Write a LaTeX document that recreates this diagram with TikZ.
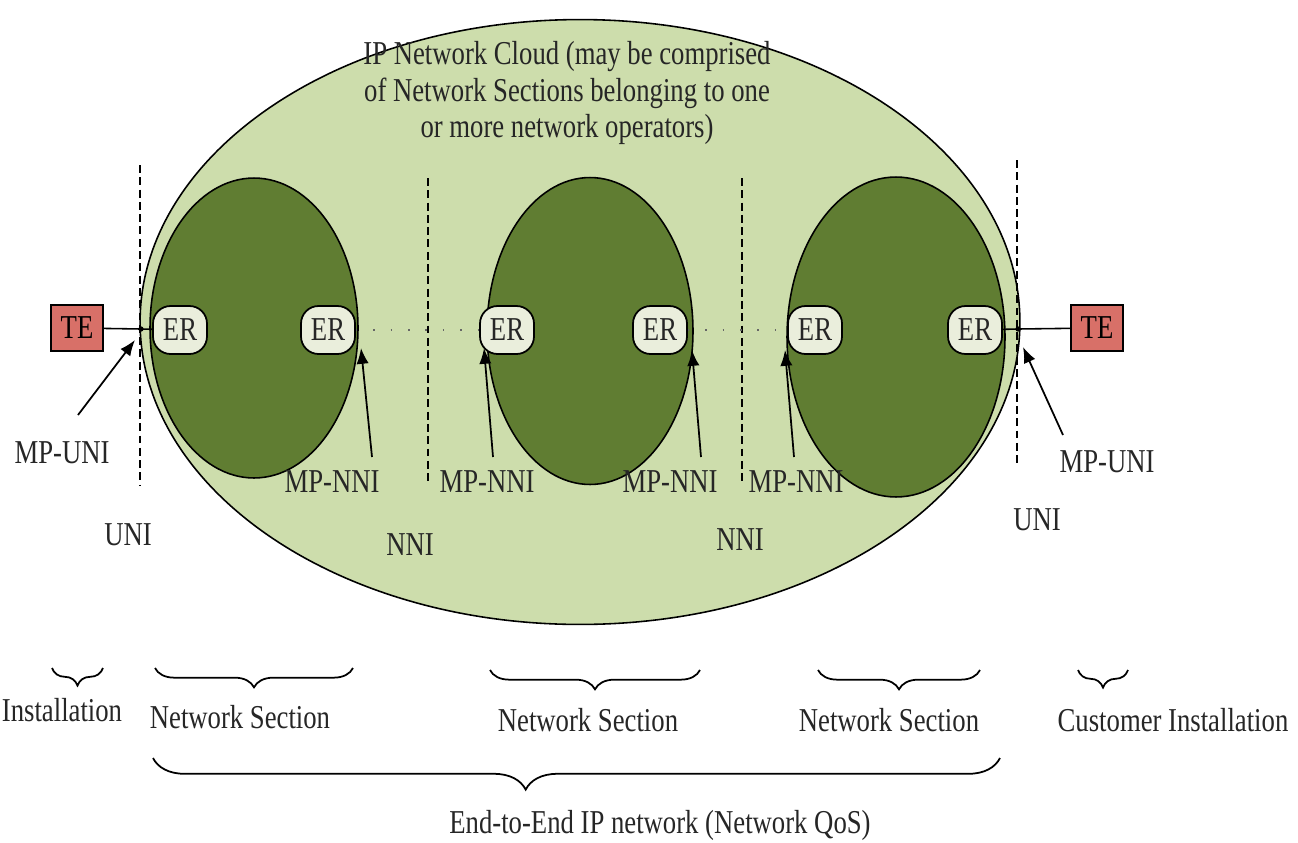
\documentclass[tikz,border=0pt]{standalone}
\usepackage{fontspec}
\setmainfont[FakeStretch=0.8]{Liberation Serif}
\usetikzlibrary{shapes.geometric,arrows.meta,decorations.pathreplacing}
\definecolor{cloudfill}{RGB}{205,221,172}
\definecolor{secfill}{RGB}{96,125,50}
\definecolor{erfill}{RGB}{234,238,220}
\definecolor{tefill}{RGB}{216,112,104}
\tikzset{
  txt/.style={font=\fontsize{19}{21}\selectfont, inner sep=0pt, text=black!85},
  cloud/.style={ellipse, draw=black, line width=0.9pt, fill=cloudfill, inner sep=0pt},
  section/.style={ellipse, draw=black, line width=0.9pt, fill=secfill, inner sep=0pt},
  erbox/.style={draw=black, line width=1pt, fill=erfill, rounded corners=10pt, minimum width=1.08cm, minimum height=0.96cm, inner sep=0pt, font=\fontsize{19}{21}\selectfont, text=black!85},
  tebox/.style={draw=black, line width=0.6pt, fill=tefill, minimum width=1.04cm, minimum height=0.92cm, inner sep=0pt, font=\fontsize{19}{21}\selectfont},
  ifline/.style={line width=1.1pt, dash pattern=on 4.5pt off 2.5pt},
  dotline/.style={line width=0.9pt, dash pattern=on 0.9pt off 9pt, black!60},
  mparrow/.style={line width=1pt, -{Latex[length=9pt,width=7pt]}},
  brace/.style={decorate, line width=1pt},
}
\begin{document}
\begin{tikzpicture}[x=0.02cm, y=-0.02cm]
\useasboundingbox (0,0) rectangle (1298,842);

% cloud and network sections
\node[cloud, minimum width=17.6cm, minimum height=12.1cm] (cloud) at (580,322) {};
\node[section, minimum width=4.16cm, minimum height=6.0cm] (s1) at (254,328) {};
\node[section, minimum width=4.12cm, minimum height=6.14cm] (s2) at (590,331) {};
\node[section, minimum width=4.36cm, minimum height=6.4cm] (s3) at (896,337) {};

% interface dashed lines
\coordinate (d1a) at (140,165); \coordinate (d1b) at (140,485);
\coordinate (d2a) at (428,178); \coordinate (d2b) at (428,482);
\coordinate (d3a) at (742,178); \coordinate (d3b) at (742,482);
\coordinate (d4a) at (1017,160); \coordinate (d4b) at (1017,465);
\draw[ifline] (d1a) -- (d1b);
\draw[ifline] (d2a) -- (d2b);
\draw[ifline] (d3a) -- (d3b);
\draw[ifline] (d4a) -- (d4b);

% title
\node[txt, align=center] (title) at (567,93) {IP Network Cloud (may be comprised\\of Network Sections belonging to one\\or more network operators)};

% edge routers
\node[erbox] (er1) at (180,330) {ER};
\node[erbox] (er2) at (328,330) {ER};
\node[erbox] (er3) at (507,330) {ER};
\node[erbox] (er4) at (660,330) {ER};
\node[erbox] (er5) at (815,330) {ER};
\node[erbox] (er6) at (975,330) {ER};

\draw[dotline] (er2) -- (er3);
\draw[dotline] (er4) -- (er5);

% terminal equipment
\node[tebox] (te1) at (77,328) {TE};
\node[tebox] (te2) at (1097,328) {TE};
\coordinate (j1) at (141,329);
\coordinate (j2) at (1018,329);
\draw[line width=0.9pt] (te1) -- (j1) -- (er1);
\draw[line width=0.9pt] (te2) -- (j2) -- (er6);
\fill (j1) circle (1.5pt);
\fill (j2) circle (1.5pt);

% measurement points
\coordinate (a1) at (135,340);
\coordinate (a2) at (361,348);
\coordinate (a3) at (484,348);
\coordinate (a4) at (692,350);
\coordinate (a5) at (785,350);
\coordinate (a6) at (1023,347);
\node[txt] (mpu1) at (62,453) {MP-UNI};
\node[txt] (mpn1) at (332,482) {MP-NNI};
\node[txt] (mpn2) at (487,482) {MP-NNI};
\node[txt] (mpn3) at (670,482) {MP-NNI};
\node[txt] (mpn4) at (796,482) {MP-NNI};
\node[txt] (mpu2) at (1107,462) {MP-UNI};
\draw[mparrow] (78,415) -- (a1);
\draw[mparrow] (372,457) -- (a2);
\draw[mparrow] (493,457) -- (a3);
\draw[mparrow] (701,457) -- (a4);
\draw[mparrow] (794,457) -- (a5);
\draw[mparrow] (1063,435) -- (a6);

\node[txt] (uni1) at (128,535) {UNI};
\node[txt] (nni1) at (410,545) {NNI};
\node[txt] (nni2) at (740,540) {NNI};
\node[txt] (uni2) at (1037,520) {UNI};

% braces
\draw[brace, decoration={brace, mirror, amplitude=10pt}] (52,668) -- (103,668);
\draw[brace, decoration={brace, mirror, amplitude=11pt}] (155,668) -- (353,668);
\draw[brace, decoration={brace, mirror, amplitude=11pt}] (490,670) -- (700,670);
\draw[brace, decoration={brace, mirror, amplitude=11pt}] (818,670) -- (980,670);
\draw[brace, decoration={brace, mirror, amplitude=10pt}] (1078,670) -- (1128,670);
\draw[brace, decoration={brace, mirror, amplitude=18pt, aspect=0.44}] (153,758) -- (1000,758);

\node[txt] (inst) at (62,710) {Installation};
\node[txt] (ns1) at (240,717) {Network Section};
\node[txt] (ns2) at (588,720) {Network Section};
\node[txt] (ns3) at (889,720) {Network Section};
\node[txt] (cinst) at (1173,720) {Customer Installation};
\node[txt] (e2e) at (660,825) {End-to-End IP network (Network QoS)};
\end{tikzpicture}
\end{document}
